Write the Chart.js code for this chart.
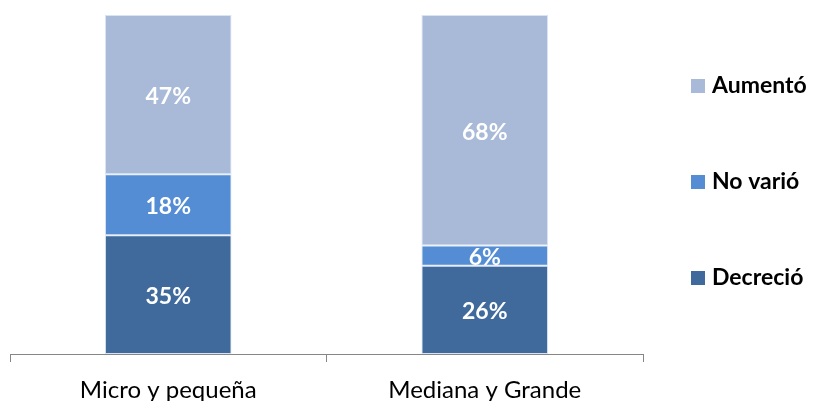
<!DOCTYPE html>
<html><head><meta charset="utf-8">
<script src="https://cdn.jsdelivr.net/npm/chart.js@4"></script>
<style>html,body{margin:0;padding:0;background:#fff}#wrap{width:816px;height:401px}</style>
</head><body><div id="wrap"><canvas id="c" width="816" height="401"></canvas></div>
<script>
const categories = ["Micro y pequeña", "Mediana y Grande"];
const decrecio = [35, 26];
const novario = [18, 6];
const aumento = [47, 68];
const seriesNames = ["Decreció", "No varió", "Aumentó"];
const seriesColors = ["#3F6A9B", "#548DD4", "#A9BAD8"];
const FONT = "Lato, 'Open Sans', sans-serif";

const labelPlugin = {
  id: 'segLabels',
  afterDatasetsDraw(chart) {
    const ctx = chart.ctx;
    ctx.save();
    ctx.fillStyle = '#ffffff';
    ctx.font = "bold 23px " + FONT;
    ctx.textAlign = 'center';
    ctx.textBaseline = 'middle';
    chart.data.datasets.forEach((ds, i) => {
      chart.getDatasetMeta(i).data.forEach((bar, j) => {
        const p = bar.getProps(['x', 'y', 'base'], true);
        ctx.fillText(ds.data[j] + '%', p.x, (p.y + p.base) / 2 + 2);
      });
    });
    ctx.restore();
  }
};

const legendPlugin = {
  id: 'sideLegend',
  afterDraw(chart) {
    const ctx = chart.ctx;
    ctx.save();
    ctx.font = "bold 23px " + FONT;
    ctx.textBaseline = 'middle';
    ctx.textAlign = 'left';
    const n = chart.data.datasets.length;
    const ys = [86, 182, 278];
    for (let k = 0; k < n; k++) {
      const ds = chart.data.datasets[n - 1 - k];
      const y = ys[k];
      ctx.fillStyle = ds.backgroundColor;
      ctx.fillRect(691, y - 7, 14, 14);
      ctx.fillStyle = '#000000';
      ctx.fillText(ds.label, 712, y);
    }
    ctx.restore();
  }
};

new Chart(document.getElementById('c'), {
  type: 'bar',
  data: {
    labels: categories,
    datasets: [
      { label: seriesNames[0], data: decrecio, backgroundColor: seriesColors[0] },
      { label: seriesNames[1], data: novario, backgroundColor: seriesColors[1] },
      { label: seriesNames[2], data: aumento, backgroundColor: seriesColors[2] }
    ].map(d => Object.assign(d, { borderColor: 'rgba(200,215,240,0.7)', borderWidth: 1, borderSkipped: false, categoryPercentage: 0.4, barPercentage: 1 }))
  },
  options: {
    responsive: false,
    animation: false,
    devicePixelRatio: 1,
    layout: { padding: { left: 10, right: 173, top: 15, bottom: 0 } },
    plugins: { legend: { display: false }, tooltip: { enabled: false } },
    scales: {
      x: {
        stacked: true,
        afterFit: s => { s.height = 47; },
        grid: { display: true, drawOnChartArea: false, drawTicks: true, tickLength: 8, color: '#868686', offset: true },
        border: { display: true, color: '#868686', width: 1 },
        ticks: { color: '#000000', font: { family: FONT, size: 24 }, padding: 14, maxRotation: 0 }
      },
      y: {
        stacked: true, min: 0, max: 100, display: false
      }
    }
  },
  plugins: [labelPlugin, legendPlugin]
});
</script></body></html>
